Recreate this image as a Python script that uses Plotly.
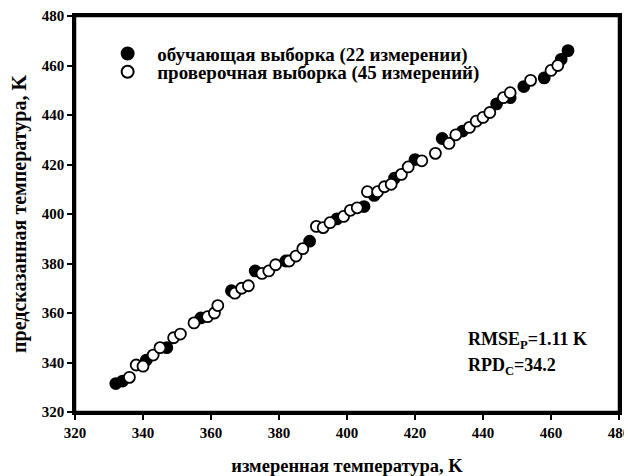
import plotly.graph_objects as go

train_meas = [332, 334, 341, 347, 357, 366, 373, 382, 389, 397, 405, 408, 414, 420, 428, 434, 444, 448, 452, 458, 463, 465]
train_pred = [331.5, 332.5, 341, 346, 358, 369, 377, 381, 389, 398, 403, 407.5, 414.5, 422, 430.5, 433.5, 444.5, 447, 451.5, 455, 462.5, 466]

test_meas = [336, 338, 340, 343, 345, 349, 351, 355, 359, 361, 362, 367, 369, 371, 375, 377, 379, 383, 385, 387,
             391, 393, 395, 399, 401, 403, 406, 409, 411, 413, 416, 418, 422, 426, 430, 432, 436, 438, 440, 442,
             446, 448, 454, 460, 462]
test_pred = [334, 339, 338.5, 343, 346, 350, 351.5, 356, 358.5, 360, 363, 368, 370, 371, 376, 377, 379.5, 381, 383, 386,
             395, 394.5, 396.5, 399, 401.5, 402.5, 409, 409, 411, 412, 416, 419, 421.5, 424.5, 428.5, 432, 435, 437.5, 439, 441,
             447, 449, 454, 458, 460]

ticks = [320, 340, 360, 380, 400, 420, 440, 460, 480]

font_family = "Liberation Serif"

fig = go.Figure()
fig.add_trace(go.Scatter(
    x=train_meas, y=train_pred, mode="markers",
    name="&nbsp;&nbsp;<b>обучающая выборка (22 измерении)</b>",
    marker=dict(size=11, color="black", line=dict(color="black", width=1.8)),
    legend="legend",
))
fig.add_trace(go.Scatter(
    x=test_meas, y=test_pred, mode="markers",
    name="&nbsp;&nbsp;<b>проверочная выборка (45 измерений)</b>",
    marker=dict(size=11, color="white", line=dict(color="black", width=1.8)),
    legend="legend2",
))

axis_common = dict(
    range=[320, 480], tickvals=ticks, ticktext=[f"<b>{t}</b>" for t in ticks],
    showgrid=False, zeroline=False, showline=True, linecolor="black", linewidth=2.5,
    mirror=True, ticks="outside", ticklen=5, tickwidth=1.5, tickcolor="black",
    tickfont=dict(family=font_family, size=15, color="black"),
    automargin=False,
)

legend_common = dict(
    xanchor="left", yanchor="middle",
    font=dict(family=font_family, size=19, color="black"),
    bgcolor="rgba(0,0,0,0)", itemsizing="constant", tracegroupgap=0,
)

fig.update_layout(
    width=624, height=468,
    margin=dict(l=67, r=13, t=8, b=64),
    paper_bgcolor="white", plot_bgcolor="white",
    font=dict(family=font_family, color="black"),
    showlegend=True,
    legend=dict(legend_common, x=0.06, y=0.905),
    legend2=dict(legend_common, x=0.06, y=0.859),
    xaxis=dict(axis_common, title=dict(text="<b>измеренная температура, K</b>",
                                       font=dict(family=font_family, size=18.5), standoff=21)),
    yaxis=dict(axis_common, title=dict(text="<b>предсказанная температура, K</b>",
                                       font=dict(family=font_family, size=20), standoff=16)),
    shapes=[dict(type="rect", xref="paper", yref="paper", x0=0, y0=0, x1=1, y1=1,
                 line=dict(color="black", width=2.5), layer="above")],
    annotations=[
        dict(xref="paper", yref="paper", x=0.719, y=0.18, xanchor="left", yanchor="middle",
             text="<b>RMSE<sub>P</sub>=1.11 K</b>", showarrow=False,
             font=dict(family=font_family, size=18, color="black")),
        dict(xref="paper", yref="paper", x=0.719, y=0.116, xanchor="left", yanchor="middle",
             text="<b>RPD<sub>C</sub>=34.2</b>", showarrow=False,
             font=dict(family=font_family, size=18, color="black")),
    ],
)

fig.write_html("out.html")
